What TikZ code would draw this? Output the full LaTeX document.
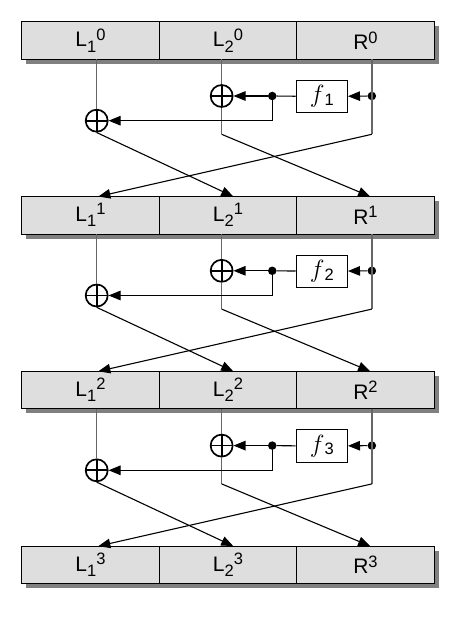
\documentclass[tikz,border=0pt]{standalone}
\usepackage{fontspec}
\setmainfont{Liberation Sans}
\usetikzlibrary{positioning,arrows.meta,calc,shadows}

\definecolor{regfill}{gray}{0.87}
\definecolor{regshade}{gray}{0.5}
\definecolor{wiregray}{gray}{0.4}

\newcommand{\regname}[3]{#1\raisebox{-5.5pt}{\fontsize{16.5}{16}\selectfont #2}\raisebox{6.5pt}{\fontsize{16.5}{16}\selectfont #3}}
\newcommand{\regtop}[2]{#1\raisebox{6.5pt}{\fontsize{16.5}{16}\selectfont #2}}
\newcommand{\fname}[1]{{\fontsize{23}{23}\selectfont$f$}\raisebox{-2.5pt}{\fontsize{16.5}{16}\selectfont #1}}

\tikzset{
    reg/.style={draw, line width=1pt, fill=regfill, minimum width=137.5pt, minimum height=37.6pt,
        inner sep=0pt, outer sep=0pt, font=\fontsize{21}{24}\selectfont,
        drop shadow={shadow xshift=4.5pt, shadow yshift=-4.5pt, fill=regshade, opacity=1}},
    xor/.style={circle, draw, line width=1.7pt, minimum size=22pt, inner sep=0pt,
        path picture={\draw[line width=1.7pt] (path picture bounding box.north) -- (path picture bounding box.south)
            (path picture bounding box.west) -- (path picture bounding box.east);}},
    fbox/.style={draw, line width=1pt, fill=white, minimum width=51.3pt, minimum height=32.6pt, inner sep=0pt},
    dot/.style={circle, fill, minimum size=8.5pt, inner sep=0pt},
    wire/.style={draw=wiregray, line width=1.3pt},
    link/.style={line width=1.1pt},
    feed/.style={line width=1.1pt, -{Triangle[length=12pt, width=9.5pt]}},
}

\begin{document}
\begin{tikzpicture}[x=1pt, y=-1pt]
    \useasboundingbox (0,0) rectangle (470,617);

    % registers
    \node [reg] (l1-0) at (90.45,40.5) {\regname{L}{1}{0}};
    \node [reg, right=0pt of l1-0] (l2-0) {\regname{L}{2}{0}};
    \node [reg, right=0pt of l2-0] (r-0) {\regtop{R}{0}};
    \node [reg, below=137.2pt of l1-0] (l1-1) {\regname{L}{1}{1}};
    \node [reg, right=0pt of l1-1] (l2-1) {\regname{L}{2}{1}};
    \node [reg, right=0pt of l2-1] (r-1) {\regtop{R}{1}};
    \node [reg, below=137.2pt of l1-1] (l1-2) {\regname{L}{1}{2}};
    \node [reg, right=0pt of l1-2] (l2-2) {\regname{L}{2}{2}};
    \node [reg, right=0pt of l2-2] (r-2) {\regtop{R}{2}};
    \node [reg, below=137.2pt of l1-2] (l1-3) {\regname{L}{1}{3}};
    \node [reg, right=0pt of l1-3] (l2-3) {\regname{L}{2}{3}};
    \node [reg, right=0pt of l2-3] (r-3) {\regtop{R}{3}};

    % one round between row \a and row \b
    \foreach \a/\b in {0/1, 1/2, 2/3} {
        \node [xor] (xa-\b) at ($(l2-\a.south)+(-6.3,36.7)$) {};
        \node [xor] (xb-\b) at ($(l1-\a.south)+(6.25,61.4)$) {};
        \node [fbox] (f-\b) at ($(r-\a.south)+(-43.6,37.2)$) {\fname{\b}};
        \node [dot] (din-\b) at ($(r-\a.south)+(6.4,36.7)$) {};
        \node [dot] (dout-\b) at ($(l2-\a.south)+(44.3,36.7)$) {};
        \coordinate (bend-\b) at (dout-\b |- xb-\b);
        \coordinate (rturn-\b) at ($(r-\a.south)+(6.4,75)$);
        \coordinate (lturn-\b) at ($(l2-\a.south)+(-6.3,75)$);

        \draw [wire] ($(l1-\a.south)+(6.25,0)$) -- (xb-\b);
        \draw [wire] ($(l2-\a.south)+(-6.3,0)$) -- (xa-\b) -- (lturn-\b);
        \draw [wire] ($(r-\a.south)+(6.4,0)$) -- (rturn-\b);
        \draw [feed] (din-\b) -- (f-\b);
        \draw [link] (f-\b) -- (dout-\b);
        \draw [feed] (dout-\b) -- (xa-\b);
        \draw [feed] (dout-\b) -- (bend-\b) -- (xb-\b);
        \draw [feed] (xb-\b.south) -- ($(l2-\b.north)+(5.3,0)$);
        \draw [feed] (lturn-\b) -- ($(r-\b.north)+(4.7,0)$);
        \draw [feed] (rturn-\b) -- ($(l1-\b.north)+(7.9,0)$);
    }
\end{tikzpicture}
\end{document}
